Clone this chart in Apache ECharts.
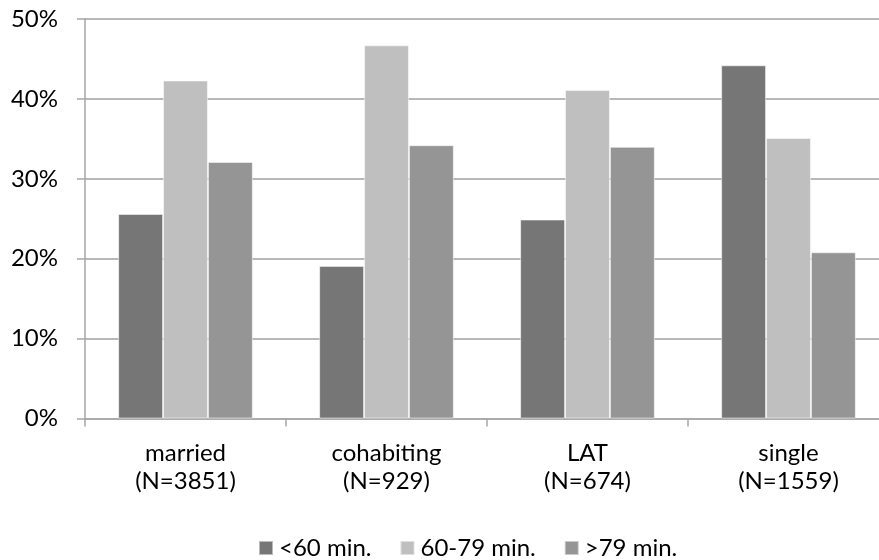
<!DOCTYPE html>
<html>
<head>
<meta charset="utf-8">
<script src="https://cdn.jsdelivr.net/npm/echarts@6/dist/echarts.min.js"></script>
<style>html,body{margin:0;padding:0;background:#fff;overflow:hidden;}#c{width:879px;height:560px;}</style>
</head>
<body>
<div id="c"></div>
<script>
const categories = ['married\n(N=3851)', 'cohabiting\n(N=929)', 'LAT\n(N=674)', 'single\n(N=1559)'];
const seriesNames = ['<60 min.', '60-79 min.', '>79 min.'];
const under60 = [25.6, 19.1, 24.9, 44.2];
const from60to79 = [42.3, 46.7, 41.1, 35.1];
const over79 = [32.1, 34.2, 34.0, 20.8];
const yTicks = [0, 10, 20, 30, 40, 50];

const colors = ['#767676', '#bfbfbf', '#959595'];
const values = [under60, from60to79, over79];
const font = 'Lato, "Open Sans", sans-serif';

const chart = echarts.init(document.getElementById('c'), null, {renderer: 'canvas'});
chart.setOption({
  animation: false,
  textStyle: {fontFamily: font},
  grid: {left: 85, width: 804, top: 19, bottom: 141.5, outerBoundsMode: 'none', containLabel: false},
  legend: {
    top: 531, left: 253,
    itemWidth: 14, itemHeight: 14, itemGap: 28,
    icon: 'rect',
    textStyle: {fontSize: 24, color: '#000', fontFamily: font, padding: [0, 0, 0, 1]},
    data: seriesNames
  },
  xAxis: {
    type: 'category',
    data: categories,
    axisLine: {lineStyle: {color: '#a6a6a6', width: 1.5}},
    axisTick: {show: true, length: 8, lineStyle: {color: '#a6a6a6', width: 1.5}},
    axisLabel: {fontSize: 24, color: '#000', lineHeight: 28, margin: 21, fontFamily: font}
  },
  yAxis: {
    type: 'value',
    min: yTicks[0], max: yTicks[yTicks.length - 1], interval: 10,
    axisLine: {show: true, lineStyle: {color: '#a6a6a6', width: 1.5}},
    axisTick: {show: true, length: 8, lineStyle: {color: '#a6a6a6', width: 1.5}},
    splitLine: {lineStyle: {color: '#a0a0a0', width: 1.5}},
    axisLabel: {fontSize: 24, color: '#000', margin: 27, formatter: v => v + '%', fontFamily: font}
  },
  series: seriesNames.map((n, i) => ({
    name: n,
    type: 'bar',
    data: values[i],
    barGap: '0%',
    barCategoryGap: '33%',
    itemStyle: {color: colors[i], borderColor: 'rgba(255,255,255,0.5)', borderWidth: 1}
  }))
});
</script>
</body>
</html>
